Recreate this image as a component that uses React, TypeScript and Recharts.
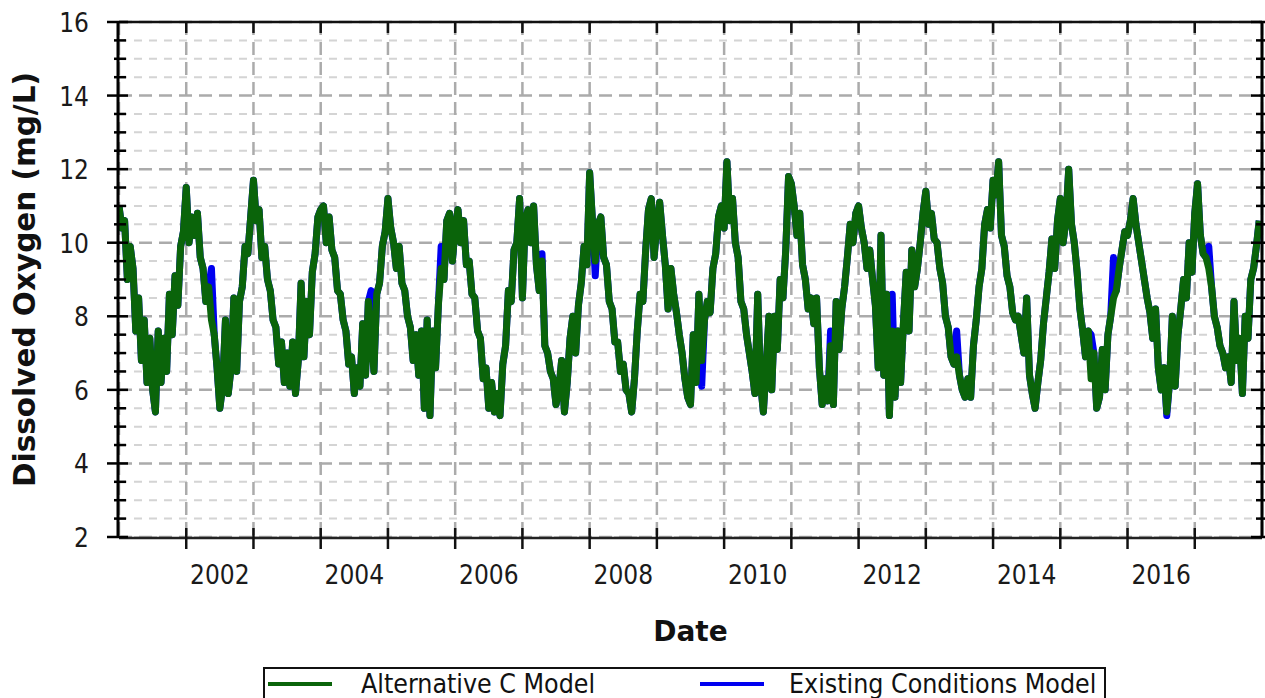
import React from "react";
import { LineChart, Line, XAxis, YAxis, CartesianGrid } from "recharts";

const GREEN = "#0a640a";
const BLUE = "#0000f0";
const TICK_FONT = "'DejaVu Sans Condensed', 'DejaVu Sans', sans-serif";
const TITLE_FONT = "'DejaVu Sans', Verdana, sans-serif";

// twice-monthly readings, starting January 2001
const startYear = 2001;
const perYear = 24;

const alternativeC = [
  // 2001
  11.0, 10.4, 10.6, 9.0, 9.9, 9.3, 7.6, 8.5, 6.8, 7.9, 6.2, 7.4, 6.0, 5.4, 7.6, 6.2, 7.4, 6.5, 8.6, 7.5, 9.1, 8.3, 9.9, 10.3,
  // 2002
  11.5, 10.0, 10.7, 10.2, 10.8, 9.6, 9.3, 8.4, 8.8, 7.9, 7.5, 6.6, 5.5, 6.1, 7.9, 5.9, 6.6, 8.5, 6.5, 8.4, 8.8, 9.9, 9.7, 10.7,
  // 2003
  11.7, 10.6, 10.9, 9.6, 9.9, 9.0, 8.7, 7.9, 7.7, 6.7, 7.3, 6.2, 7.0, 6.1, 7.3, 5.9, 6.8, 8.9, 6.9, 8.4, 7.5, 9.2, 9.7, 10.7,
  // 2004
  10.9, 11.0, 10.0, 10.7, 9.8, 9.6, 8.7, 8.6, 7.9, 7.6, 6.7, 6.9, 5.9, 6.6, 6.1, 7.8, 6.4, 8.4, 7.4, 6.5, 8.6, 8.9, 9.9, 10.3,
  // 2005
  11.2, 10.4, 10.0, 9.3, 9.9, 8.9, 8.7, 8.0, 7.7, 6.8, 7.5, 6.4, 7.6, 5.5, 7.9, 5.3, 7.6, 6.6, 8.3, 9.3, 9.0, 10.6, 10.8, 9.5,
  // 2006
  10.4, 10.9, 10.0, 10.6, 9.4, 9.5, 8.6, 8.5, 7.6, 7.4, 6.3, 6.6, 5.5, 6.2, 5.4, 5.9, 5.3, 6.7, 7.2, 8.7, 8.4, 9.8, 10.0, 11.2,
  // 2007
  8.5, 10.6, 10.9, 10.0, 11.0, 9.4, 8.7, 9.5, 7.2, 7.0, 6.5, 6.3, 5.6, 6.0, 6.8, 5.4, 6.2, 7.4, 8.0, 7.0, 8.3, 8.9, 9.9, 9.4,
  // 2008
  11.9, 10.6, 9.5, 10.5, 10.7, 9.6, 9.4, 8.4, 8.2, 7.3, 7.3, 6.5, 6.7, 6.0, 5.9, 5.4, 6.3, 7.6, 8.6, 8.4, 9.8, 10.9, 11.2, 9.6,
  // 2009
  10.5, 11.1, 10.2, 9.4, 8.2, 9.3, 8.6, 8.1, 7.5, 7.0, 6.3, 5.8, 5.6, 7.5, 6.2, 8.6, 6.8, 7.9, 8.4, 8.1, 9.3, 9.7, 10.7, 11.0,
  // 2010
  10.4, 12.2, 10.6, 11.2, 10.0, 9.6, 8.4, 8.2, 7.5, 7.0, 6.5, 5.9, 8.6, 6.2, 5.4, 6.6, 8.0, 6.0, 8.0, 7.1, 9.0, 8.5, 9.8, 11.8,
  // 2011
  11.6, 11.0, 10.2, 10.8, 9.4, 9.0, 8.2, 8.5, 7.8, 8.5, 6.6, 5.6, 6.3, 5.7, 7.2, 5.6, 8.4, 7.1, 8.2, 8.8, 9.6, 10.5, 10.0, 10.8,
  // 2012
  11.0, 10.4, 10.0, 9.3, 9.8, 9.0, 8.3, 6.6, 10.2, 6.4, 8.6, 5.3, 7.6, 5.8, 7.6, 6.2, 7.8, 9.2, 7.6, 9.8, 8.8, 9.3, 10.0, 10.8,
  // 2013
  11.4, 10.5, 10.8, 10.1, 10.0, 9.3, 8.9, 8.0, 7.7, 6.9, 6.7, 6.9, 6.4, 6.0, 5.8, 6.3, 5.8, 7.2, 7.9, 8.8, 9.3, 10.5, 10.9, 10.4,
  // 2014
  11.7, 11.3, 12.2, 10.2, 9.9, 9.1, 8.8, 8.1, 7.9, 8.0, 7.5, 7.0, 8.5, 6.4, 5.9, 5.5, 6.2, 6.8, 7.8, 8.5, 9.2, 10.1, 9.3, 10.6,
  // 2015
  11.2, 10.0, 10.6, 12.0, 10.5, 10.0, 9.2, 8.2, 7.6, 6.9, 7.6, 6.3, 7.0, 5.5, 5.8, 7.1, 6.0, 7.5, 8.0, 8.5, 8.7, 9.3, 9.8, 10.3,
  // 2016
  10.2, 10.6, 11.2, 10.5, 10.0, 9.5, 9.0, 8.5, 8.1, 7.4, 8.2, 6.6, 6.0, 6.6, 5.4, 6.2, 8.0, 6.1, 7.5, 8.2, 9.0, 8.5, 10.0, 9.2,
  // 2017
  10.8, 11.6, 10.2, 9.7, 9.6, 9.3, 8.8, 8.0, 7.7, 7.2, 7.0, 6.6, 6.9, 6.2, 8.4, 6.8, 7.4, 5.9, 8.0, 7.4, 9.0, 9.3, 9.9, 10.6,
];

// [reading index, value] where the existing-conditions trace differs from Alternative C
const existingDiffs: [number, number][] = [
  [33, 9.3], [90, 8.7], [115, 9.9], [151, 9.7], [170, 9.1], [208, 6.1],
  [254, 7.6], [276, 8.6], [299, 7.6], [347, 7.5], [355, 9.6], [374, 5.3], [389, 9.9],
];

const yearLines = [2002, 2003, 2004, 2005, 2006, 2007, 2008, 2009, 2010, 2011, 2012, 2013, 2014, 2015, 2016, 2017];
const yearLabels = [2002, 2004, 2006, 2008, 2010, 2012, 2014, 2016];
const yMajor = [2, 4, 6, 8, 10, 12, 14, 16];
const yMinor = [2.5, 3, 3.5, 4.5, 5, 5.5, 6.5, 7, 7.5, 8.5, 9, 9.5, 10.5, 11, 11.5, 12.5, 13, 13.5, 14.5, 15, 15.5];
const yAll = [...yMajor, ...yMinor].sort((a, b) => a - b);

const diffMap = new Map(existingDiffs);
const data = alternativeC.map((v, i) => ({
  t: startYear + i / perYear,
  alt: v,
  existing: diffMap.has(i) ? diffMap.get(i) : v,
}));

function LeftMajorTick({ x, y, payload }: any) {
  return (
    <g>
      <line x1={x - 11} x2={x + 10} y1={y} y2={y} stroke="#000" strokeWidth={2.5} />
      <text x={x - 29} y={y + 10} textAnchor="end" fontFamily={TICK_FONT} fontSize={26} fill="#1a1a1a">
        {payload.value}
      </text>
    </g>
  );
}

function MinorTick({ x, y }: any) {
  return <line x1={x - 5} x2={x + 7} y1={y} y2={y} stroke="#000" strokeWidth={2.5} />;
}

function RightTick({ x, y, payload }: any) {
  const len = yMajor.includes(payload.value) ? 11 : 6;
  return <line x1={x - len} x2={x + len} y1={y} y2={y} stroke="#000" strokeWidth={2.5} />;
}

function YearTick({ x, y }: any) {
  return <line x1={x} x2={x} y1={y - 10} y2={y + 11} stroke="#111" strokeWidth={2.5} />;
}

function TopTick({ x, y }: any) {
  return <line x1={x} x2={x} y1={y} y2={y + 11} stroke="#111" strokeWidth={2.5} />;
}

function YearLabel({ x, y, payload }: any) {
  return (
    <text x={x} y={y + 47} textAnchor="middle" fontFamily={TICK_FONT} fontSize={26} fill="#1a1a1a">
      {Math.floor(payload.value)}
    </text>
  );
}

const legendItems = [
  { name: "Alternative C Model", color: GREEN, lineX: 268, textX: 361 },
  { name: "Existing Conditions Model", color: BLUE, lineX: 700, textX: 789 },
];

export default function App() {
  return (
    <div style={{ position: "absolute", left: 0, top: 0, width: 1265, height: 698, background: "#fff", overflow: "hidden" }}>
      <LineChart
        width={1265}
        height={698}
        data={data}
        margin={{ top: 21, right: 2, bottom: 159, left: 117 }}
      >
        <CartesianGrid xAxisId="years" yAxisId="minor" vertical={false} stroke="#d4d4d4" strokeWidth={2} strokeDasharray="8 7" />
        <CartesianGrid xAxisId="years" yAxisId="value" vertical={false} stroke="#ababab" strokeWidth={2.5} strokeDasharray="13 7" />
        <CartesianGrid xAxisId="years" yAxisId="value" horizontal={false} stroke="#ababab" strokeWidth={2.5} strokeDasharray="13 7" />

        <XAxis
          xAxisId="years"
          dataKey="t"
          type="number"
          domain={[2001, 2018]}
          allowDataOverflow
          ticks={yearLines}
          interval={0}
          height={1}
          tickSize={0}
          tickMargin={0}
          tickLine={false}
          axisLine={{ stroke: "#222", strokeWidth: 2.5 }}
          tick={(p: any) => <YearTick {...p} />}
          label={({ viewBox }: any) => (
            <text
              x={viewBox.x + viewBox.width / 2}
              y={viewBox.y + 103}
              textAnchor="middle"
              fontFamily={TITLE_FONT}
              fontWeight="bold"
              fontSize={28}
              fill="#111"
            >
              Date
            </text>
          )}
        />
        <XAxis
          xAxisId="labels"
          dataKey="t"
          type="number"
          domain={[2001, 2018]}
          allowDataOverflow
          ticks={yearLabels.map((v) => v + 0.5)}
          interval={0}
          height={1}
          tickSize={0}
          tickMargin={0}
          tickLine={false}
          axisLine={false}
          tick={(p: any) => <YearLabel {...p} />}
        />
        <XAxis
          xAxisId="top"
          dataKey="t"
          orientation="top"
          type="number"
          domain={[2001, 2018]}
          allowDataOverflow
          ticks={yearLines}
          interval={0}
          height={1}
          tickSize={0}
          tickMargin={0}
          tickLine={false}
          axisLine={{ stroke: "#111", strokeWidth: 2.5 }}
          tick={(p: any) => <TopTick {...p} />}
        />

        <YAxis
          yAxisId="value"
          type="number"
          domain={[2, 16]}
          allowDataOverflow
          ticks={yMajor}
          interval={0}
          width={1}
          tickSize={0}
          tickMargin={0}
          tickLine={false}
          axisLine={{ stroke: "#000", strokeWidth: 3 }}
          tick={(p: any) => <LeftMajorTick {...p} />}
          label={({ viewBox }: any) => {
            const cy = viewBox.y + viewBox.height / 2;
            return (
              <text
                x={35}
                y={cy}
                transform={`rotate(-90, 35, ${cy})`}
                textAnchor="middle"
                fontFamily={TITLE_FONT}
                fontWeight="bold"
                fontSize={29.5}
                fill="#111"
              >
                Dissolved Oxygen (mg/L)
              </text>
            );
          }}
        />
        <YAxis
          yAxisId="minor"
          type="number"
          domain={[2, 16]}
          allowDataOverflow
          ticks={yMinor}
          interval={0}
          width={1}
          tickSize={0}
          tickMargin={0}
          tickLine={false}
          axisLine={false}
          tick={(p: any) => <MinorTick {...p} />}
        />
        <YAxis
          yAxisId="right"
          orientation="right"
          type="number"
          domain={[2, 16]}
          allowDataOverflow
          ticks={yAll}
          interval={0}
          width={1}
          tickSize={0}
          tickMargin={0}
          tickLine={false}
          axisLine={{ stroke: "#000", strokeWidth: 3 }}
          tick={(p: any) => <RightTick {...p} />}
        />

        <Line
          xAxisId="years"
          yAxisId="value"
          type="linear"
          dataKey="existing"
          name="Existing Conditions Model"
          stroke={BLUE}
          strokeWidth={7}
          strokeLinejoin="round"
          dot={false}
          activeDot={false}
          isAnimationActive={false}
        />
        <Line
          xAxisId="years"
          yAxisId="value"
          type="linear"
          dataKey="alt"
          name="Alternative C Model"
          stroke={GREEN}
          strokeWidth={7}
          strokeLinejoin="round"
          dot={false}
          activeDot={false}
          isAnimationActive={false}
        />
      </LineChart>

      {/* legend box, cut off by the bottom edge like the original */}
      <svg width={1265} height={698} style={{ position: "absolute", left: 0, top: 0, pointerEvents: "none" }}>
        <rect x={264} y={668} width={841} height={40} fill="#fff" stroke="#111" strokeWidth={2} />
        {legendItems.map((item) => (
          <g key={item.name}>
            <line x1={item.lineX} x2={item.lineX + 64} y1={684} y2={684} stroke={item.color} strokeWidth={4} />
            <text x={item.textX} y={693} fontFamily={TICK_FONT} fontSize={26.5} fill="#111">
              {item.name}
            </text>
          </g>
        ))}
      </svg>
    </div>
  );
}
